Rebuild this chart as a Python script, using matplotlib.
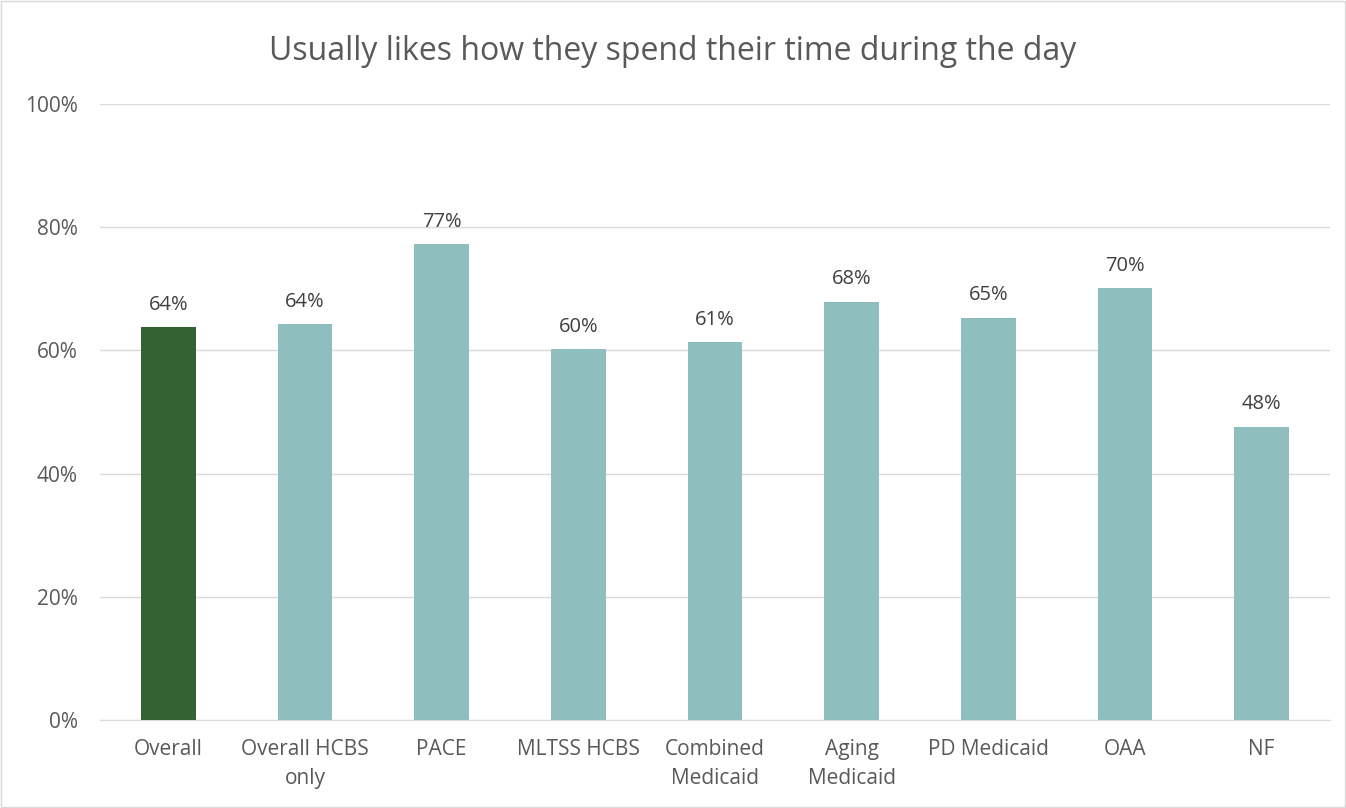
import matplotlib.pyplot as plt
import numpy as np

categories = ["Overall", "Overall HCBS\nonly", "PACE", "MLTSS HCBS", "Combined\nMedicaid",
              "Aging\nMedicaid", "PD Medicaid", "OAA", "NF"]
values = [63.8, 64.3, 77.3, 60.2, 61.3, 67.9, 65.3, 70.1, 47.6]
labels = ["64%", "64%", "77%", "60%", "61%", "68%", "65%", "70%", "48%"]
colors = ["#336333"] + ["#8FBEBE"] * 8

plt.rcParams['font.family'] = ['Open Sans', 'DejaVu Sans']
text_color = "#595959"

fig = plt.figure(figsize=(13.46, 8.08), dpi=100)
ax = fig.add_axes([100 / 1346, 1 - 720 / 808, 1230 / 1346, 616 / 808])

x = np.arange(len(categories))
ax.bar(x, values, width=0.4, color=colors, zorder=3)
for xi, v, lab in zip(x, values, labels):
    ax.text(xi, v + 2.0, lab, ha="center", va="bottom", fontsize=14.5, color="#404040")

ax.set_ylim(0, 100)
ax.set_xlim(-0.5, len(categories) - 0.5)
ax.set_yticks(range(0, 101, 20))
ax.set_yticklabels([f"{t}%" for t in range(0, 101, 20)])
ax.set_xticks(x)
ax.set_xticklabels(categories, linespacing=1.45)
ax.tick_params(axis="both", length=0, labelsize=15, labelcolor=text_color)
ax.tick_params(axis="y", pad=16)
ax.tick_params(axis="x", pad=14)
ax.grid(axis="y", color="#D9D9D9", linewidth=1, zorder=0)
for s in ["top", "right", "left"]:
    ax.spines[s].set_visible(False)
ax.spines["bottom"].set_color("#D9D9D9")

fig.text(0.5, 1 - 52 / 808, "Usually likes how they spend their time during the day",
         ha="center", va="center", fontsize=23, color=text_color)

fig.patches.append(plt.Rectangle((0.001, 0.001), 0.998, 0.998, transform=fig.transFigure,
                                 fill=False, edgecolor="#D9D9D9", linewidth=1))

fig.savefig("out.png", dpi=100)
